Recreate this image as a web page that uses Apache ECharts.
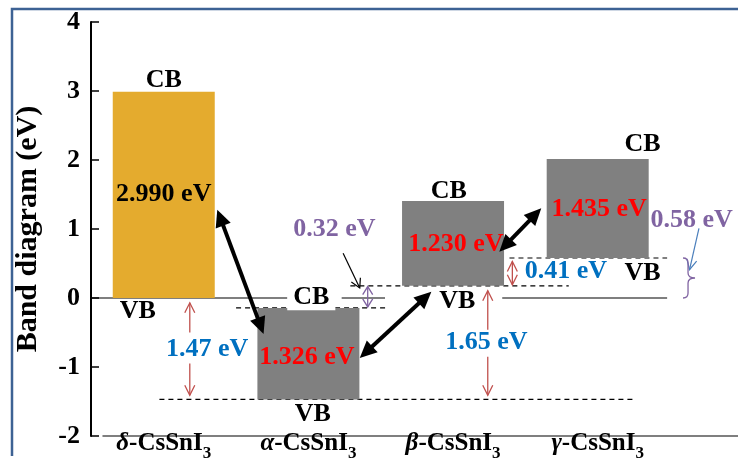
<!DOCTYPE html>
<html>
<head>
<meta charset="utf-8">
<script src="https://cdn.jsdelivr.net/npm/echarts@6/dist/echarts.min.js"></script>
<style>
  html, body { margin: 0; padding: 0; background: #fff; }
  #chart { width: 738px; height: 461px; }
</style>
</head>
<body>
<div id="chart"></div>
<script>
// ---- data -------------------------------------------------------------
// CsSnI3 polymorphs, band edges in eV (valence band referenced to δ phase)
const categories = ['δ-CsSnI3', 'α-CsSnI3', 'β-CsSnI3', 'γ-CsSnI3'];
const valenceBand = [0, -1.47, 0.176, 0.58];
const bandGap = [2.990, 1.326, 1.230, 1.435];
const conductionBand = valenceBand.map((v, i) => v + bandGap[i]);
const gapLabels = bandGap.map(g => g.toFixed(3) + ' eV');
// band offsets between phases
const offsetLabels = ['1.47 eV', '1.65 eV', '0.41 eV', '0.32 eV', '0.58 eV'];
const yMin = -2, yMax = 4, yStep = 1;

// ---- styling ----------------------------------------------------------
const FONT = '"Liberation Serif", "Times New Roman", serif';
const barColors = ['#E4AB2E', '#808080', '#808080', '#808080'];
const RED = '#FF0000', BLUE = '#0070C0', PURPLE = '#8064A2', BLACK = '#000000';
const BAR_WIDTH = 102;

// level lines: [xFrom, xTo, level, dashed]
const levelLines = [
  [-0.505, 0.857, valenceBand[0], 0],
  [1.23, 1.53, valenceBand[0], 0],
  [2.34, 3.48, valenceBand[0], 0],
  [0.50, 1.54, conductionBand[1], 1],
  [1.29, 2.80, valenceBand[2], 1],
  [2.39, 3.48, valenceBand[3], 1],
  [-0.03, 3.25, valenceBand[1], 1]
];

// arrow kinds: thick black, thin red, purple, thin black, thin blue
const arrowKinds = [
  { color: BLACK, width: 4, len: 17, half: 8, filled: true },
  { color: '#C0504D', width: 1.3, len: 10, half: 5, filled: false },
  { color: PURPLE, width: 1.3, len: 8, half: 5, filled: false },
  { color: BLACK, width: 1.2, len: 9, half: 5, filled: false },
  { color: '#4A7EBB', width: 1.2, len: 10, half: 5, filled: false }
];
// [x1, y1, x2, y2, kind, doubleHeaded]
const arrows = [
  [0.37, 1.28, 0.69, -0.52, 0, 1],
  [1.355, -0.87, 1.85, 0.09, 0, 1],
  [2.32, 0.67, 2.61, 1.30, 0, 1],
  [0.18, -0.50, 0.18, valenceBand[0] - 0.07, 1, 0],
  [0.18, -0.95, 0.18, valenceBand[1] + 0.06, 1, 0],
  [2.24, -0.46, 2.24, valenceBand[2] - 0.07, 1, 0],
  [2.24, -0.85, 2.24, valenceBand[1] + 0.06, 1, 0],
  [2.41, valenceBand[2] + 0.015, 2.41, valenceBand[3] - 0.05, 1, 1],
  [1.41, conductionBand[1] + 0.015, 1.41, valenceBand[2] - 0.01, 2, 1],
  [1.24, 0.65, 1.355, 0.145, 3, 0],
  [3.70, 1.01, 3.635, 0.41, 4, 0]
];

// text annotations: text, x, y, colour
const notes = [
  ['CB', 0.0, 3.15, BLACK],
  [gapLabels[0], 0.0, 1.51, BLACK],
  ['VB', -0.18, -0.19, BLACK],
  [offsetLabels[0], 0.30, -0.74, BLUE],
  ['CB', 1.02, 0.01, BLACK],
  [gapLabels[1], 0.99, -0.86, RED],
  ['VB', 1.03, -1.68, BLACK],
  [offsetLabels[3], 1.18, 1.0, PURPLE],
  ['CB', 1.97, 1.55, BLACK],
  [gapLabels[2], 2.02, 0.78, RED],
  ['VB', 2.03, -0.05, BLACK],
  [offsetLabels[1], 2.23, -0.64, BLUE],
  [offsetLabels[2], 2.78, 0.38, BLUE],
  ['VB', 3.31, 0.36, BLACK],
  ['CB', 3.31, 2.23, BLACK],
  [gapLabels[3], 3.01, 1.28, RED],
  [offsetLabels[4], 3.65, 1.12, PURPLE]
];
// labels that sit on the zero line get a white backing
const backedNotes = [4, 10];

// brace spanning the γ valence-band offset
const brace = [[3.59, valenceBand[0], valenceBand[3]]];

function head(tip, from, k) {
  const dx = tip[0] - from[0], dy = tip[1] - from[1];
  const d = Math.hypot(dx, dy) || 1;
  const ux = dx / d, uy = dy / d;
  const bx = tip[0] - ux * k.len, by = tip[1] - uy * k.len;
  const p1 = [bx - uy * k.half, by + ux * k.half];
  const p2 = [bx + uy * k.half, by - ux * k.half];
  if (k.filled) {
    return { type: 'polygon', shape: { points: [tip, p1, p2] }, style: { fill: k.color } };
  }
  return { type: 'polyline', shape: { points: [p1, tip, p2] },
           style: { stroke: k.color, lineWidth: k.width, fill: null } };
}

const chart = echarts.init(document.getElementById('chart'));
chart.setOption({
  backgroundColor: '#fff',
  animation: false,
  grid: { left: 103, right: 0, top: 22, bottom: 25, containLabel: false, outerBoundsMode: 'none' },
  xAxis: {
    type: 'value', min: -0.42, max: 3.97,
    axisLine: { show: true, onZero: false, lineStyle: { color: '#555', width: 1.5 } },
    axisTick: { show: false },
    splitLine: { show: false },
    axisLabel: {
      customValues: categories.map((c, i) => i),
      margin: -5,
      formatter: v => {
        const c = categories[Math.round(v)];
        return '{g|' + c[0] + '}{n|' + c.slice(1, -1) + '}{s|' + c.slice(-1) + '}';
      },
      rich: {
        g: { fontFamily: FONT, fontSize: 25, fontWeight: 'bold', fontStyle: 'italic', color: BLACK, lineHeight: 25 },
        n: { fontFamily: FONT, fontSize: 25, fontWeight: 'bold', color: BLACK, lineHeight: 25 },
        s: { fontFamily: FONT, fontSize: 17, fontWeight: 'bold', color: BLACK, lineHeight: 14, verticalAlign: 'top', padding: [14, 0, 0, 0] }
      }
    }
  },
  yAxis: {
    type: 'value', min: yMin, max: yMax, interval: yStep, offset: 12,
    name: 'Band diagram (eV)', nameLocation: 'middle', nameGap: 48,
    nameTextStyle: { fontFamily: FONT, fontSize: 30, fontWeight: 'bold', color: BLACK },
    axisLine: { show: true, onZero: false, lineStyle: { color: BLACK, width: 2 } },
    axisTick: { show: true, inside: true, length: 8, lineStyle: { color: BLACK, width: 1.5 } },
    splitLine: { show: false },
    axisLabel: { fontFamily: FONT, fontSize: 26, fontWeight: 'bold', color: BLACK, margin: 11 }
  },
  graphic: [{
    type: 'polyline', silent: true,
    shape: { points: [[12, 456], [12, 9], [738, 9]] },
    style: { stroke: '#3D6294', lineWidth: 2.5, fill: null }
  }],
  series: [
    {
      // level reference lines
      type: 'custom', clip: false, z: 1,
      data: levelLines.map(l => [l[0], l[1], l[2], l[3]]),
      renderItem: (params, api) => {
        const a = api.coord([api.value(0), api.value(2)]);
        const b = api.coord([api.value(1), api.value(2)]);
        return { type: 'line', shape: { x1: a[0], y1: a[1], x2: b[0], y2: b[1] },
                 style: { stroke: BLACK, lineWidth: 1.2, lineDash: api.value(3) ? [5, 4] : null } };
      }
    },
    {
      // band blocks: valence band to conduction band
      type: 'custom', clip: false, z: 2,
      data: categories.map((c, i) => [i, valenceBand[i], conductionBand[i]]),
      renderItem: (params, api) => {
        const i = api.value(0);
        const top = api.coord([i, api.value(2)]);
        const bot = api.coord([i, api.value(1)]);
        return { type: 'rect',
                 shape: { x: top[0] - BAR_WIDTH / 2, y: top[1], width: BAR_WIDTH, height: bot[1] - top[1] },
                 style: { fill: barColors[i] } };
      }
    },
    {
      // text annotations
      type: 'custom', clip: false, z: 3,
      data: notes.map(n => [n[1], n[2]]),
      renderItem: (params, api) => {
        const n = notes[params.dataIndex];
        const p = api.coord([api.value(0), api.value(1)]);
        const backed = backedNotes.indexOf(params.dataIndex) >= 0;
        return { type: 'text', x: p[0], y: p[1],
                 style: { text: n[0], fill: n[3], font: 'bold 26px ' + FONT,
                          align: 'center', verticalAlign: 'middle',
                          textAlign: 'center', textVerticalAlign: 'middle',
                          backgroundColor: backed ? '#fff' : null, padding: backed ? [0, 6] : 0 } };
      }
    },
    {
      // arrows
      type: 'custom', clip: false, z: 4,
      data: arrows,
      renderItem: (params, api) => {
        const k = arrowKinds[api.value(4)];
        const a = api.coord([api.value(0), api.value(1)]);
        const b = api.coord([api.value(2), api.value(3)]);
        const both = api.value(5) === 1;
        const dx = b[0] - a[0], dy = b[1] - a[1];
        const d = Math.hypot(dx, dy) || 1;
        const ux = dx / d, uy = dy / d;
        const cut = k.filled ? k.len * 0.8 : 0;
        const s = both ? [a[0] + ux * cut, a[1] + uy * cut] : a;
        const e = [b[0] - ux * cut, b[1] - uy * cut];
        const children = [
          { type: 'line', shape: { x1: s[0], y1: s[1], x2: e[0], y2: e[1] },
            style: { stroke: k.color, lineWidth: k.width } },
          head(b, a, k)
        ];
        if (both) children.push(head(a, b, k));
        return { type: 'group', children };
      }
    },
    {
      // curly brace for the γ offset
      type: 'custom', clip: false, z: 4,
      data: brace,
      renderItem: (params, api) => {
        const t = api.coord([api.value(0), api.value(2)]);
        const b = api.coord([api.value(0), api.value(1)]);
        const x0 = t[0], xm = x0 + 5, xt = x0 + 12, r = 5;
        const ym = (t[1] + b[1]) / 2;
        const path = 'M' + x0 + ',' + t[1] + ' Q' + xm + ',' + t[1] + ' ' + xm + ',' + (t[1] + r) +
          ' L' + xm + ',' + (ym - r) + ' Q' + xm + ',' + ym + ' ' + xt + ',' + ym +
          ' Q' + xm + ',' + ym + ' ' + xm + ',' + (ym + r) +
          ' L' + xm + ',' + (b[1] - r) + ' Q' + xm + ',' + b[1] + ' ' + x0 + ',' + b[1];
        return { type: 'path', shape: { pathData: path },
                 style: { stroke: PURPLE, lineWidth: 1.3, fill: null } };
      }
    }
  ]
});
</script>
</body>
</html>
